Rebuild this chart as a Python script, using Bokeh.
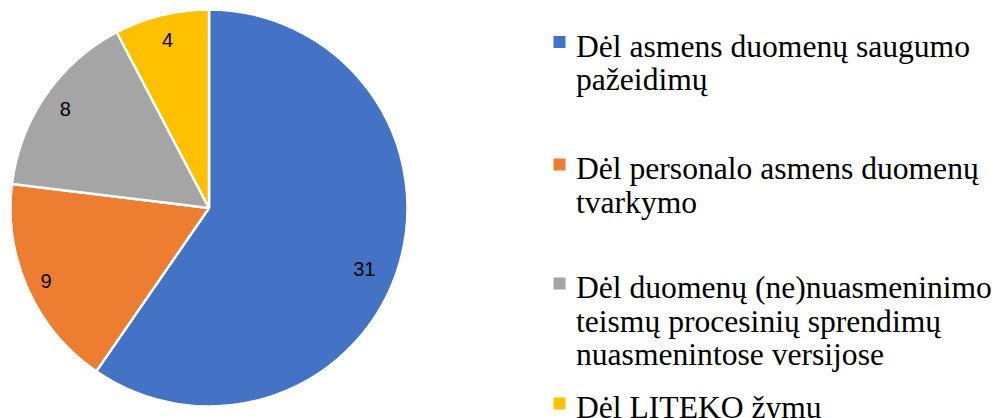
import math
from bokeh.plotting import figure
from bokeh.models import Range1d, ColumnDataSource
from bokeh.core.properties import value
from bokeh.embed import file_html
from bokeh.resources import INLINE

# ---- data ----
categories = [
    "Dėl asmens duomenų saugumo pažeidimų",
    "Dėl personalo asmens duomenų tvarkymo",
    "Dėl duomenų (ne)nuasmeninimo teismų procesinių sprendimų nuasmenintose versijose",
    "Dėl LITEKO žymų",
]
legend_lines = [
    ["Dėl asmens duomenų saugumo", "pažeidimų"],
    ["Dėl personalo asmens duomenų", "tvarkymo"],
    ["Dėl duomenų (ne)nuasmeninimo", "teismų procesinių sprendimų", "nuasmenintose versijose"],
    ["Dėl LITEKO žymų"],
]
counts = [31, 9, 8, 4]
colors = ["#4472C4", "#ED7D31", "#A5A5A5", "#FFC000"]

# ---- layout ----
W, H = 998, 418
cx, cy, R = 208.5, H - 207.5, 198.5
label_r = [0.84, 0.90, 0.88, 0.87]
label_da = [-4.0, 0.0, 0.0, 0.0]  # degrees nudge
legend_first_baseline = [51.5, 174.0, 293.0, 413.0]  # from top
baseline_fix = 6.0  # renderer places alphabetic baseline lower
line_step = 33.7
legend_x_square = 552.5
legend_x_text = 575.5

p = figure(width=W, height=H, x_range=Range1d(0, W), y_range=Range1d(0, H),
           output_backend="svg", toolbar_location=None, min_border=0,
           x_axis_location=None, y_axis_location=None)
p.grid.visible = False
p.outline_line_color = None
p.background_fill_color = "white"
p.border_fill_color = "white"

total = sum(counts)
starts, ends, lx, ly = [], [], [], []
cum = 0
for i, v in enumerate(counts):
    a0 = math.pi / 2 - 2 * math.pi * cum / total
    a1 = math.pi / 2 - 2 * math.pi * (cum + v) / total
    starts.append(a0)
    ends.append(a1)
    mid = (a0 + a1) / 2 + math.radians(label_da[i])
    lx.append(cx + label_r[i] * R * math.cos(mid))
    ly.append(cy + label_r[i] * R * math.sin(mid))
    cum += v

src = ColumnDataSource(dict(start=starts, end=ends, color=colors))
p.wedge(x=cx, y=cy, radius=R, start_angle="start", end_angle="end",
        direction="clock", fill_color="color", line_color="white",
        line_width=2.5, source=src)

p.text(x=lx, y=ly, text=[str(v) for v in counts], text_align="center",
       text_baseline="middle", text_font=value("Liberation Sans"),
       text_font_size="20px", text_color="#000000")

# legend
tx, ty, tt = [], [], []
sx, sy = [], []
for i, lines in enumerate(legend_lines):
    b0 = legend_first_baseline[i]
    sx.append(legend_x_square + 6.5)
    sy.append(H - (b0 - 10))
    for j, ln in enumerate(lines):
        tx.append(legend_x_text)
        ty.append(H - (b0 + j * line_step - baseline_fix))
        tt.append(ln)

p.rect(x=sx, y=sy, width=12, height=12, fill_color=colors, line_color=None)
p.text(x=tx, y=ty, text=tt, text_align="left", text_baseline="alphabetic",
       text_font=value("Liberation Serif"), text_font_size="31.6px",
       text_color="#000000")

open("out.html", "w").write(file_html(p, INLINE))
